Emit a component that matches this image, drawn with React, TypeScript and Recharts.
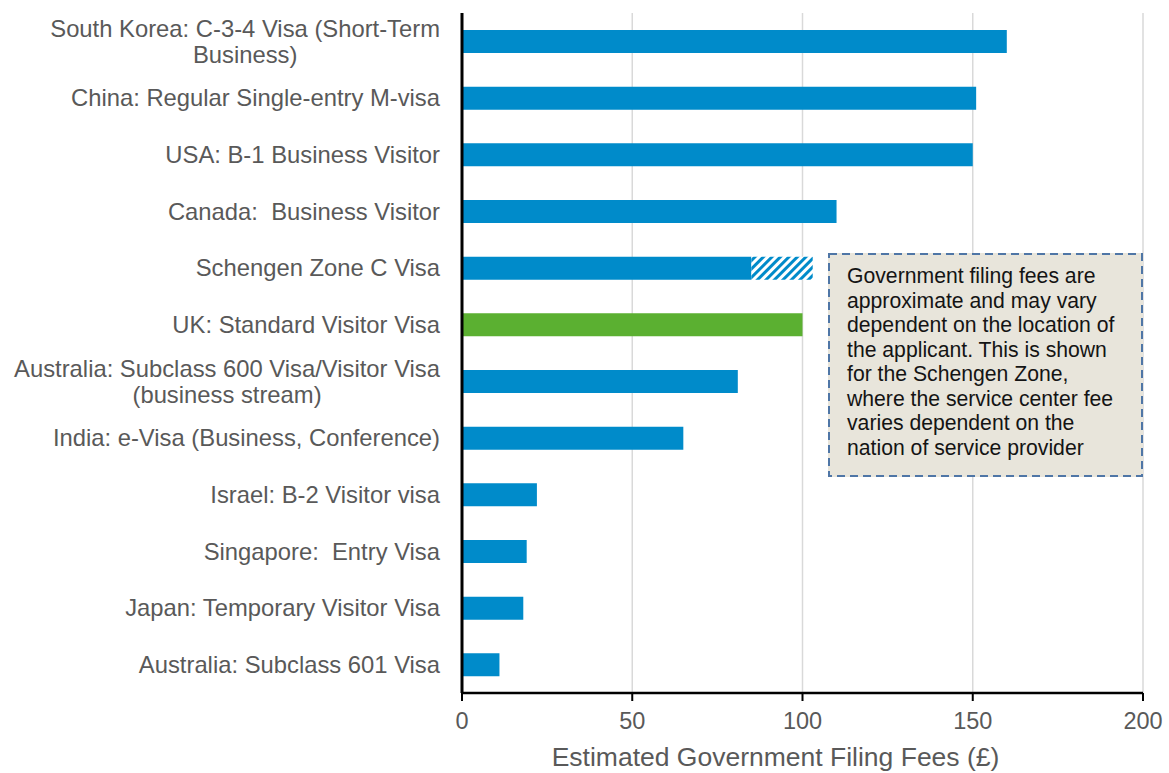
import React from "react"
import { Bar, BarChart, CartesianGrid, Cell, XAxis, YAxis } from "recharts"

// categories top to bottom; "\n" marks the label line break
const visas = [
  "South Korea: C-3-4 Visa (Short-Term\nBusiness)",
  "China: Regular Single-entry M-visa",
  "USA: B-1 Business Visitor",
  "Canada:  Business Visitor",
  "Schengen Zone C Visa",
  "UK: Standard Visitor Visa",
  "Australia: Subclass 600 Visa/Visitor Visa\n(business stream)",
  "India: e-Visa (Business, Conference)",
  "Israel: B-2 Visitor visa",
  "Singapore:  Entry Visa",
  "Japan: Temporary Visitor Visa",
  "Australia: Subclass 601 Visa",
]

// base government fee (£)
const baseFees = [160, 151, 150, 110, 85, 100, 81, 65, 22, 19, 18, 11]
// extra that varies with the service provider (hatched)
const variableFees = [0, 0, 0, 0, 18, 0, 0, 0, 0, 0, 0, 0]

const feeTicks = [0, 50, 100, 150, 200]

const noteLines = [
  "Government filing fees are",
  "approximate and may vary",
  "dependent on the location of",
  "the applicant. This is shown",
  "for the Schengen Zone,",
  "where the service center fee",
  "varies dependent on the",
  "nation of service provider",
]

const highlight = "UK: Standard Visitor Visa"

const BLUE = "#008bca"
const GREEN = "#5bb031"
const FONT = "'Liberation Sans', Arial, sans-serif"
const LABEL_SIZE = 23.8

const data = visas.map((name, i) => ({
  name,
  base: baseFees[i],
  variable: variableFees[i],
}))

let ctx: CanvasRenderingContext2D | null = null
function textWidth(s: string, size: number) {
  if (!ctx) ctx = document.createElement("canvas").getContext("2d")
  if (!ctx) return s.length * size * 0.5
  ctx.font = `${size}px ${FONT}`
  return ctx.measureText(s).width
}

function VisaTick(props: any) {
  const { x, y, payload } = props
  const lines = String(payload.value).split("\n")
  const lh = 26
  const common = {
    fill: "#595959",
    fontSize: LABEL_SIZE,
    fontFamily: FONT,
    style: { whiteSpace: "pre" as const },
  }
  if (lines.length === 1) {
    return (
      <text x={x} y={y} dy="0.35em" textAnchor="end" {...common}>
        {lines[0]}
      </text>
    )
  }
  const w = Math.max(...lines.map((l) => textWidth(l, LABEL_SIZE)))
  const cx = x - w / 2
  return (
    <text textAnchor="middle" {...common}>
      {lines.map((l, i) => (
        <tspan key={i} x={cx} y={y + (i - (lines.length - 1) / 2) * lh} dy="0.35em">
          {l}
        </tspan>
      ))}
    </text>
  )
}

export default function App() {
  return (
    <div style={{ position: "absolute", left: 0, top: 0, width: 1169, height: 773, fontFamily: FONT }}>
      <BarChart
        width={1169}
        height={773}
        data={data}
        layout="vertical"
        margin={{ top: 13, right: 26, bottom: 0, left: 0 }}
        barCategoryGap={0}
      >
        <defs>
          <pattern id="hatch" patternUnits="userSpaceOnUse" width="6" height="6" patternTransform="rotate(45)">
            <rect width="6" height="6" fill="#ffffff" />
            <rect width="3" height="6" fill={BLUE} />
          </pattern>
        </defs>
        <CartesianGrid horizontal={false} stroke="#d9d9d9" strokeWidth={1.5} />
        <XAxis
          type="number"
          domain={[0, 200]}
          ticks={feeTicks}
          height={80}
          axisLine={{ stroke: "#000", strokeWidth: 2.5 }}
          tickLine={{ stroke: "#000", strokeWidth: 2 }}
          tickSize={8}
          tickMargin={11}
          tick={{ fill: "#595959", fontSize: 23.5, fontFamily: FONT }}
          label={{
            value: "Estimated Government Filing Fees (£)",
            position: "insideBottom",
            offset: 7,
            dx: -27,
            fill: "#595959",
            fontSize: 26.5,
            fontFamily: FONT,
          }}
        />
        <YAxis
          type="category"
          dataKey="name"
          width={462}
          interval={0}
          axisLine={{ stroke: "#000", strokeWidth: 3 }}
          tickLine={false}
          tickSize={0}
          tickMargin={22}
          tick={<VisaTick />}
        />
        <Bar dataKey="base" stackId="fee" barSize={23} fill={BLUE} isAnimationActive={false}>
          {data.map((d) => (
            <Cell key={d.name} fill={d.name === highlight ? GREEN : BLUE} />
          ))}
        </Bar>
        <Bar dataKey="variable" stackId="fee" barSize={23} fill="url(#hatch)" isAnimationActive={false} />
      </BarChart>
      <div
        style={{
          position: "absolute",
          left: 828,
          top: 253,
          width: 315,
          height: 224,
          background: "#e8e5db",
          boxSizing: "border-box",
          padding: "11px 0 0 19px",
          color: "#141414",
          fontSize: 21.2,
          lineHeight: "24.5px",
          whiteSpace: "nowrap",
        }}
      >
        <svg width={315} height={224} style={{ position: "absolute", left: 0, top: 0 }}>
          <rect x={1} y={1} width={313} height={222} fill="none" stroke="#4f76a6" strokeWidth={2} strokeDasharray="8 5" />
        </svg>
        <div style={{ position: "relative" }}>
          {noteLines.map((l, i) => (
            <div key={i}>{l}</div>
          ))}
        </div>
      </div>
    </div>
  )
}
